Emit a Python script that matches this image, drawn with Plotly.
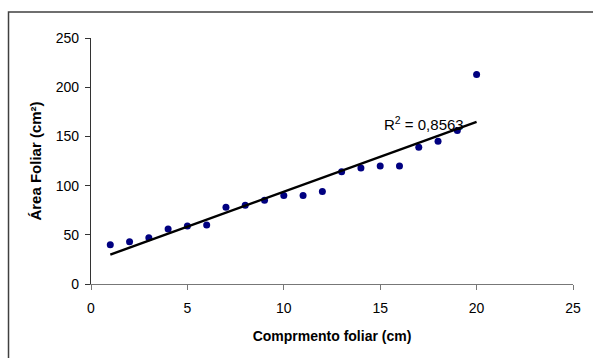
import numpy as np
import plotly.graph_objects as go

comprimento = [1, 2, 3, 4, 5, 6, 7, 8, 9, 10, 11, 12, 13, 14, 15, 16, 17, 18, 19, 20]
area = [40, 43, 47, 56, 59, 60, 78, 80, 85, 90, 90, 94, 114, 118, 120, 120, 139, 145, 156, 213]
x_ticks = [0, 5, 10, 15, 20, 25]
y_ticks = [0, 50, 100, 150, 200, 250]
r2_label = "R<sup>2</sup> = 0,8563"

slope, intercept = np.polyfit(comprimento, area, 1)
fit_x = [comprimento[0], comprimento[-1]]
fit_y = [slope * v + intercept for v in fit_x]

W, H = 593, 358
L, R, T, B = 91, 17, 38, 74
pw, ph = W - L - R, H - T - B

fig = go.Figure()
fig.add_trace(go.Scatter(x=comprimento, y=area, mode="markers",
                         marker=dict(color="#000080", size=7), showlegend=False))
fig.add_trace(go.Scatter(x=fit_x, y=fit_y, mode="lines",
                         line=dict(color="black", width=2.5), showlegend=False))

fig.add_annotation(x=15.1, y=163, xref="x", yref="y", text=r2_label, showarrow=False,
                   xanchor="left", yanchor="middle",
                   font=dict(family="Liberation Sans, Arial", size=15, color="black"))

# outer chart frame (cropped at right and bottom)
fig.add_shape(type="rect", xref="paper", yref="paper",
              x0=(8 - L) / pw, x1=(W + 10 - L) / pw,
              y0=-(H + 10 - T - ph) / ph, y1=(T + ph - 12) / ph,
              line=dict(color="#404040", width=1.5), fillcolor="rgba(0,0,0,0)", layer="below")

tick_font = dict(family="Liberation Sans, Arial", size=14, color="black")
fig.update_layout(
    width=W, height=H,
    margin=dict(l=L, r=R, t=T, b=B),
    paper_bgcolor="white", plot_bgcolor="white",
    font=tick_font,
    xaxis=dict(range=[0, 25], tickvals=x_ticks, showgrid=False, zeroline=False,
               showline=True, linecolor="#777777", linewidth=1.2,
               ticks="outside", ticklen=5, tickcolor="#777777", tickfont=tick_font,
               ticklabelstandoff=6,
               title=dict(text="<b>Comprmento foliar (cm)</b>",
                          font=dict(family="Liberation Sans, Arial", size=14, color="black"),
                          standoff=16)),
    yaxis=dict(range=[0, 250], tickvals=y_ticks, showgrid=False, zeroline=False,
               showline=True, linecolor="#333333", linewidth=1.2,
               ticks="outside", ticklen=5, tickcolor="#333333", tickfont=tick_font,
               ticklabelstandoff=3,
               title=dict(text="<b>Área Foliar (cm²)</b>",
                          font=dict(family="Liberation Sans, Arial", size=15, color="black"),
                          standoff=10)),
)

fig.write_html("out.html", config={"displayModeBar": False},
               post_script="document.body.style.margin='0';document.body.style.overflow='hidden';")
